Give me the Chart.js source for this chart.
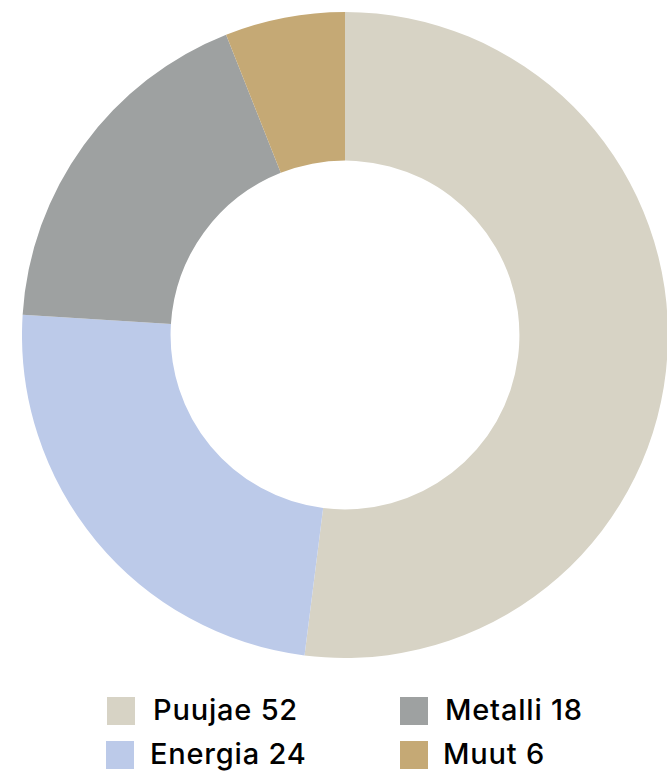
<!DOCTYPE html>
<html>
<head>
<meta charset="utf-8">
<script src="https://cdn.jsdelivr.net/npm/chart.js@4.4.0/dist/chart.umd.min.js"></script>
<style>
  html, body { margin: 0; padding: 0; background: #fff; overflow: hidden; }
  body { width: 667px; height: 772px; position: relative; font-family: Inter, "Noto Sans", sans-serif; }
  #wrap { position: absolute; left: 22px; top: 12px; width: 646px; height: 646px; }
  .item { position: absolute; font-size: 29px; font-weight: 500; color: #000; line-height: 28px; white-space: nowrap; letter-spacing: 0.8px; }
  .item span.box { position: absolute; width: 28px; height: 28px; top: 0; }
  .item span.txt { position: absolute; top: -1px; }
</style>
</head>
<body>
<div id="wrap"><canvas id="donutChart"></canvas></div>
<div id="legend"></div>
<script>
// data
const labels = ['Puujae', 'Energia', 'Metalli', 'Muut'];
const values = [52, 24, 18, 6];
const colors = ['#d7d3c5', '#bccae9', '#9ea1a1', '#c5a975'];

// legend slots (custom html, column-major like the original)
const legendPos = [
  { box: [107, 697], text: 153 },
  { box: [106, 741], text: 150 },
  { box: [400, 697], text: 445 },
  { box: [400, 741], text: 443 }
];

const legend = document.getElementById('legend');
labels.forEach((label, i) => {
  const p = legendPos[i];
  const item = document.createElement('div');
  item.className = 'item';
  item.style.left = p.box[0] + 'px';
  item.style.top = p.box[1] + 'px';
  item.innerHTML = '<span class="box" style="left:0;background:' + colors[i] + '"></span>' +
    '<span class="txt" style="left:' + (p.text - p.box[0]) + 'px">' + label + ' ' + values[i] + '</span>';
  legend.appendChild(item);
});

const ctx = document.getElementById('donutChart').getContext('2d');
new Chart(ctx, {
  type: 'doughnut',
  data: {
    labels: labels,
    datasets: [{
      data: values,
      backgroundColor: colors,
      borderWidth: 0
    }]
  },
  options: {
    responsive: true,
    maintainAspectRatio: false,
    animation: false,
    cutout: '54%',
    layout: { padding: 0 },
    plugins: {
      legend: { display: false },
      tooltip: { enabled: false }
    }
  }
});
</script>
</body>
</html>
